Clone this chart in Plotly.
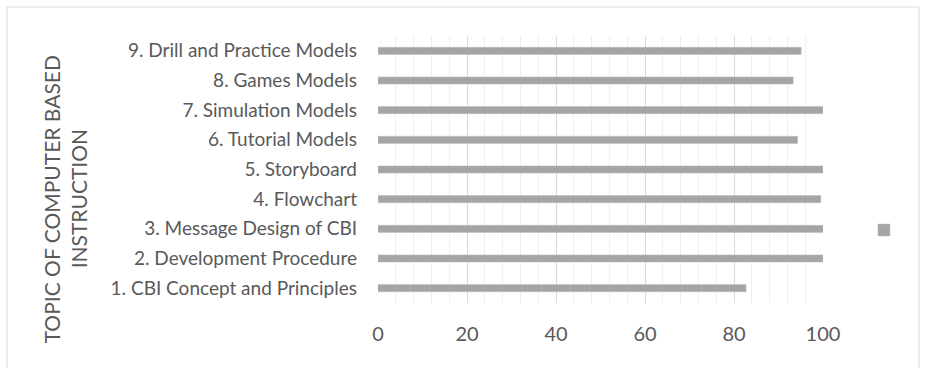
import plotly.graph_objects as go

categories = [
    "1. CBI Concept and Principles",
    "2. Development Procedure",
    "3. Message Design of CBI",
    "4. Flowchart",
    "5. Storyboard",
    "6. Tutorial Models",
    "7. Simulation Models",
    "8. Games Models",
    "9. Drill and Practice Models",
]
values = [82.7, 100, 100, 99.5, 100, 94.3, 100, 93.3, 95.1]
x_ticks = [0, 20, 40, 60, 80, 100]
y_title_lines = ["TOPIC OF COMPUTER BASED", "INSTRUCTION"]

W, H = 930, 368
L, R, T, B = 377.5, 823, 36, 303

FONT = "Lato"
TXT = "#595959"


def px_x(p):
    return (p - L) / (R - L)


def px_y(p):
    return (B - p) / (B - T)


fig = go.Figure()
fig.add_trace(go.Bar(
    y=categories, x=values, orientation="h",
    marker=dict(color="#A5A5A5", line=dict(color="#BDBDBD", width=0.5)),
    width=0.24, name=" ", showlegend=True,
))

fig.update_layout(
    width=W, height=H,
    margin=dict(l=L, r=W - R, t=T, b=H - B, pad=0),
    paper_bgcolor="white", plot_bgcolor="white",
    font=dict(family=FONT, color=TXT),
    xaxis=dict(
        range=[0, 100], tickvals=x_ticks, showgrid=True, gridcolor="#D9D9D9", gridwidth=1,
        minor=dict(dtick=4, showgrid=True, gridcolor="#EFEFEF", gridwidth=1),
        zeroline=False, showline=False, tickfont=dict(size=20, color=TXT),
        ticklabelstandoff=17, fixedrange=True,
    ),
    yaxis=dict(
        categoryorder="array", categoryarray=categories, showgrid=False, zeroline=False,
        showline=False, tickfont=dict(size=19, color=TXT), ticklabelstandoff=20,
        range=[-0.5, len(categories) - 0.5], fixedrange=True,
    ),
    legend=dict(x=px_x(864), y=px_y(230), xanchor="left", yanchor="middle",
                font=dict(size=1), itemwidth=30, bgcolor="rgba(0,0,0,0)"),
    showlegend=True,
)

for xpos, line in zip([51.5, 78.5], y_title_lines):
    fig.add_annotation(
        xref="paper", yref="paper", x=px_x(xpos), y=px_y(199),
        xanchor="center", yanchor="middle",
        text=line, textangle=-90, showarrow=False,
        font=dict(size=21, color=TXT, family=FONT), align="center",
    )

# outer chart border
fig.add_shape(type="rect", xref="paper", yref="paper",
              x0=px_x(6), x1=px_x(919),
              y0=px_y(380), y1=px_y(7),
              line=dict(color="#D9D9D9", width=1), layer="below")

fig.write_html("out.html", config={"displayModeBar": False},
               post_script="document.body.style.margin='0px';")
